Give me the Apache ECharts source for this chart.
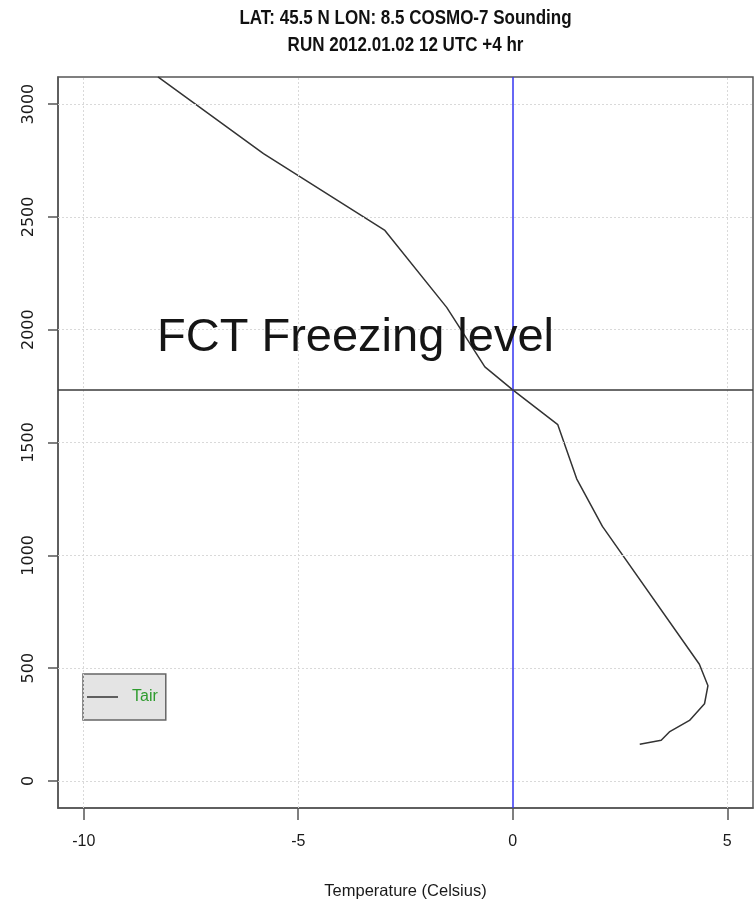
<!DOCTYPE html>
<html>
<head>
<meta charset="utf-8">
<script src="https://cdn.jsdelivr.net/npm/echarts@6/dist/echarts.min.js"></script>
<style>
  html, body { margin: 0; padding: 0; background: #ffffff; }
  #chart { width: 755px; height: 905px; }
</style>
</head>
<body>
<div id="chart"></div>
<script>
// COSMO-7 model sounding: air temperature (Celsius) against height (m)
const tairTemperature = [2.96, 3.46, 3.65, 4.12, 4.47, 4.55, 4.35, 2.09, 1.49, 1.05, 0.0, -0.65, -1.54, -2.98, -5.81, -8.27];
const tairHeight      = [163,  180,  217,  268,  342,  422,  517,  1128, 1339, 1579, 1733, 1835, 2099, 2440, 2780, 3121];

// Forecast freezing level (m) and the 0 degree reference
const freezingLevel = 1733;
const zeroDegree = 0;

// Axis ticks
const xTicks = [-10, -5, 0, 5];
const yTicks = [0, 500, 1000, 1500, 2000, 2500, 3000];

const titleLines = ['LAT: 45.5 N LON: 8.5 COSMO-7 Sounding', 'RUN 2012.01.02 12 UTC +4 hr'];
const xAxisTitle = 'Temperature (Celsius)';
const annotation = 'FCT Freezing level';

const tairPoints = tairTemperature.map((t, i) => [t, tairHeight[i]]);

const frameColor = '#555555';
const labelFont = "'Liberation Sans', Arial, sans-serif";
const yLabelFont = "'DejaVu Sans', 'Liberation Sans', sans-serif";

const chart = echarts.init(document.getElementById('chart'), null, { renderer: 'canvas' });

// two-line bold heading, slightly condensed
const titleGraphics = titleLines.map((line, i) => ({
  type: 'text',
  x: 405.5,
  y: 18 + i * 27,
  scaleX: 0.85,
  z: 10,
  style: {
    text: line,
    align: 'center',
    verticalAlign: 'middle',
    fontFamily: labelFont,
    fontWeight: 'bold',
    fontSize: 20,
    fill: '#111111'
  }
}));

chart.setOption({
  animation: false,
  backgroundColor: '#ffffff',
  grid: {
    left: 58,
    right: 2,
    top: 77,
    bottom: 91,
    show: true,
    borderColor: frameColor,
    borderWidth: 1.5,
    backgroundColor: 'transparent'
  },
  legend: {
    data: ['Tair'],
    left: 83,
    top: 674,
    orient: 'vertical',
    padding: [15, 8, 15, 4],
    backgroundColor: '#e4e4e4',
    borderColor: '#666666',
    borderWidth: 1.5,
    borderRadius: 0,
    icon: 'rect',
    itemWidth: 31,
    itemHeight: 1.5,
    itemStyle: { color: '#333333', borderWidth: 0 },
    textStyle: {
      fontFamily: labelFont,
      fontSize: 16,
      color: '#2e9b2e',
      padding: [0, 0, 0, 9]
    },
    selectedMode: false
  },
  xAxis: {
    type: 'value',
    min: -10.6,
    max: 5.6,
    name: xAxisTitle,
    nameLocation: 'middle',
    nameGap: 75,
    nameTextStyle: { fontFamily: labelFont, fontSize: 16.5, color: '#1a1a1a' },
    axisLine: { show: true, onZero: false, lineStyle: { color: frameColor, width: 1.5 } },
    axisTick: { show: true, length: 12, customValues: xTicks, lineStyle: { color: frameColor, width: 1.5 } },
    axisLabel: {
      customValues: xTicks,
      margin: 26,
      fontFamily: labelFont,
      fontSize: 16,
      color: '#1a1a1a',
      formatter: v => String(v)
    },
    splitLine: { show: false }
  },
  yAxis: {
    type: 'value',
    min: -120,
    max: 3120,
    axisLine: { show: true, onZero: false, lineStyle: { color: frameColor, width: 1.5 } },
    axisTick: { show: true, length: 10, customValues: yTicks, lineStyle: { color: frameColor, width: 1.5 } },
    axisLabel: {
      customValues: yTicks,
      rotate: 90,
      margin: 21,
      fontFamily: yLabelFont,
      fontSize: 16,
      color: '#1a1a1a',
      formatter: v => String(v)
    },
    splitLine: { show: false }
  },
  series: [
    {
      // dotted reference grid at the tick positions
      name: 'grid',
      type: 'line',
      data: [],
      z: 1,
      silent: true,
      markLine: {
        silent: true,
        symbol: 'none',
        animation: false,
        label: { show: false },
        lineStyle: { color: '#d9d9d9', type: [2, 2], width: 1 },
        data: xTicks.filter(v => v !== zeroDegree).map(v => ({ xAxis: v })).concat(yTicks.map(v => ({ yAxis: v })))
      }
    },
    {
      name: 'Tair',
      type: 'line',
      data: tairPoints,
      z: 3,
      showSymbol: false,
      symbol: 'none',
      smooth: false,
      clip: true,
      lineStyle: { color: '#333333', width: 1.5 },
      itemStyle: { color: '#333333' }
    },
    {
      name: 'zero',
      type: 'line',
      data: [],
      z: 2,
      silent: true,
      markLine: {
        silent: true,
        symbol: 'none',
        animation: false,
        label: { show: false },
        lineStyle: { color: '#3535f2', width: 1.5, type: 'solid' },
        data: [{ xAxis: zeroDegree }]
      }
    },
    {
      name: 'freezing',
      type: 'line',
      data: [],
      z: 2,
      silent: true,
      markLine: {
        silent: true,
        symbol: 'none',
        animation: false,
        label: { show: false },
        lineStyle: { color: '#3a3a3a', width: 1.5, type: 'solid' },
        data: [{ yAxis: freezingLevel }]
      }
    }
  ],
  graphic: titleGraphics.concat([
    {
      type: 'text',
      left: 157,
      top: 315,
      z: 10,
      style: {
        text: annotation,
        fontFamily: labelFont,
        fontSize: 47,
        fill: '#151515'
      }
    }
  ])
});
</script>
</body>
</html>
